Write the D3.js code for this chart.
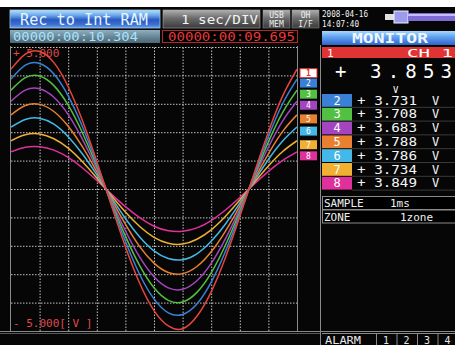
<!DOCTYPE html>
<html><head><meta charset="utf-8">
<script src="https://cdn.jsdelivr.net/npm/d3@7/dist/d3.min.js"></script>
<style>
body{margin:0;background:#fff;overflow:hidden;}
svg{display:block;}
text{font-family:"DejaVu Sans Mono","Liberation Mono",monospace;}
</style>
</head><body>
<svg id="chart" width="455" height="345"></svg>
<script>
// ---- data ----
const samplePos = [0,0.5,1,1.5,2,2.5,3,3.5,4,4.5,5,5.5,6,6.5,7,7.5,8,8.5,9,9.5,10]; // divisions
const ch1 = [4.22,4.75,4.84,4.45,3.60,2.40,0.97,-0.55,-2.03,-3.32,-4.28,-4.82,-4.92,-4.48,-3.62,-2.41,-0.97,0.55,2.01,3.28,4.22];
const ch2 = [3.87,4.36,4.42,4.05,3.28,2.19,0.89,-0.50,-1.84,-3.01,-3.87,-4.36,-4.42,-4.05,-3.28,-2.19,-0.89,0.50,1.84,3.01,3.87];
const ch3 = [3.48,3.92,3.98,3.64,2.95,1.97,0.80,-0.45,-1.66,-2.70,-3.48,-3.92,-3.98,-3.64,-2.95,-1.97,-0.80,0.45,1.66,2.70,3.48];
const ch4 = [3.09,3.48,3.53,3.23,2.62,1.75,0.71,-0.40,-1.47,-2.40,-3.09,-3.48,-3.53,-3.23,-2.62,-1.75,-0.71,0.40,1.47,2.40,3.09];
const ch5 = [2.61,2.94,2.98,2.73,2.21,1.48,0.60,-0.34,-1.24,-2.03,-2.61,-2.94,-2.98,-2.73,-2.21,-1.48,-0.60,0.34,1.24,2.03,2.61];
const ch6 = [2.18,2.45,2.49,2.28,1.84,1.23,0.50,-0.28,-1.04,-1.69,-2.18,-2.45,-2.49,-2.28,-1.84,-1.23,-0.50,0.28,1.04,1.69,2.18];
const ch7 = [1.70,1.91,1.94,1.77,1.44,0.96,0.39,-0.22,-0.81,-1.32,-1.70,-1.91,-1.94,-1.77,-1.44,-0.96,-0.39,0.22,0.81,1.32,1.70];
const ch8 = [1.31,1.47,1.49,1.37,1.11,0.74,0.30,-0.17,-0.62,-1.01,-1.31,-1.47,-1.49,-1.37,-1.11,-0.74,-0.30,0.17,0.62,1.01,1.31];
const channelNames = ["1","2","3","4","5","6","7","8"];
const channelColors = ["#e8443a","#3a80d6","#52c040","#a444c0","#e88030","#44b8e8","#f0b032","#e0309c"];
const monitorMain = "3.853";
const monitorValues = ["+ 3.731","+ 3.708","+ 3.683","+ 3.788","+ 3.786","+ 3.734","+ 3.849"];
const yTopLabel = "+ 5.000";
const yBottomLabel = "- 5.000[ V ]";
const headerTexts = {mode:"Rec to Int RAM", div:"1 sec/DIV", t1:"00000:00:10.304", t2:"00000:00:09.695", date:"2008-04-16", time:"14:07:40"};

const series = [ch1,ch2,ch3,ch4,ch5,ch6,ch7,ch8];

const svg = d3.select("#chart");
const W = 455, H = 345;
const plot = {l:11, r:297, t:47, b:331};

const defs = svg.append("defs");
function grad(id, stops){
  const g = defs.append("linearGradient").attr("id",id).attr("x1",0).attr("y1",0).attr("x2",0).attr("y2",1);
  stops.forEach(s=>g.append("stop").attr("offset",s[0]).attr("stop-color",s[1]));
}
grad("gBlue",[[0,"#b8e2fb"],[0.3,"#6aa6ea"],[0.55,"#2a58c0"],[0.8,"#3c70d0"],[1,"#6ea0e8"]]);
grad("gGray",[[0,"#b0b0b0"],[0.45,"#6c6c6c"],[1,"#3a3a3a"]]);
grad("gTime",[[0,"#8fb0c0"],[0.5,"#6a8898"],[1,"#4c6676"]]);
grad("gMon",[[0,"#a8d8ff"],[0.45,"#5e9ef0"],[1,"#2f64c8"]]);
defs.append("clipPath").attr("id","clipPlot").append("rect")
  .attr("x",plot.l).attr("y",plot.t).attr("width",plot.r-plot.l).attr("height",plot.b-plot.t);

// background
svg.append("rect").attr("width",W).attr("height",H).attr("fill","#fff");
svg.append("rect").attr("x",0).attr("y",7).attr("width",W).attr("height",H-7).attr("fill","#060606");

// ---- header ----
svg.append("rect").attr("x",10).attr("y",10).attr("width",150).attr("height",18).attr("fill","url(#gBlue)").attr("stroke","#9cc8f0").attr("stroke-width",0.8);
svg.append("text").attr("x",20).attr("y",25).attr("font-size",15).attr("fill","#e4f6ff")
  .attr("textLength",128).attr("lengthAdjust","spacingAndGlyphs").text(headerTexts.mode);
svg.append("rect").attr("x",163).attr("y",10).attr("width",97).attr("height",18).attr("fill","url(#gGray)").attr("stroke","#aaa").attr("stroke-width",0.6);
svg.append("text").attr("x",181).attr("y",24).attr("font-size",13).attr("fill","#f4f4f4")
  .attr("textLength",77).attr("lengthAdjust","spacingAndGlyphs").text(headerTexts.div);
[[263,"USB","MEM"],[292,"OH","I/F"]].forEach(d=>{
  svg.append("rect").attr("x",d[0]).attr("y",10).attr("width",27).attr("height",18).attr("fill","url(#gGray)").attr("stroke","#999").attr("stroke-width",0.5);
  svg.append("text").attr("x",d[0]+13.5).attr("y",18).attr("text-anchor","middle").attr("font-size",8).attr("fill","#f0f0f0").text(d[1]);
  svg.append("text").attr("x",d[0]+13.5).attr("y",26.5).attr("text-anchor","middle").attr("font-size",8).attr("fill","#f0f0f0").text(d[2]);
});
svg.append("text").attr("x",322).attr("y",17).attr("font-size",8).attr("fill","#f4f4f4").attr("textLength",46).attr("lengthAdjust","spacingAndGlyphs").text(headerTexts.date);
svg.append("text").attr("x",322).attr("y",26.5).attr("font-size",8).attr("fill","#f4f4f4").attr("textLength",37).attr("lengthAdjust","spacingAndGlyphs").text(headerTexts.time);
// battery/slider icon
svg.append("rect").attr("x",385).attr("y",14).attr("width",10).attr("height",6).attr("fill","#e0e0e0");
svg.append("rect").attr("x",394).attr("y",11).attr("width",14).attr("height",12).attr("fill","#9c9cec").attr("stroke","#f0f0ff").attr("stroke-width",1);
svg.append("rect").attr("x",408).attr("y",13).attr("width",47).attr("height",8).attr("fill","#7c6cd4");
svg.append("rect").attr("x",408).attr("y",14).attr("width",47).attr("height",2).attr("fill","#c4bcff");

// time row
svg.append("rect").attr("x",10).attr("y",30).attr("width",150).attr("height",13).attr("fill","url(#gTime)");
svg.append("text").attr("x",13).attr("y",41).attr("font-size",13).attr("fill","#a8e4ff")
  .attr("textLength",125).attr("lengthAdjust","spacingAndGlyphs").text(headerTexts.t1);
svg.append("rect").attr("x",162.5).attr("y",30.5).attr("width",135).attr("height",12).attr("fill","#000").attr("stroke","#b02828").attr("stroke-width",1);
svg.append("text").attr("x",168).attr("y",41).attr("font-size",13).attr("fill","#e83a3a")
  .attr("textLength",127).attr("lengthAdjust","spacingAndGlyphs").text(headerTexts.t2);

// ---- plot ----
const x = d3.scaleLinear().domain([0,10]).range([plot.l,plot.r]);
const y = d3.scaleLinear().domain([-5,5]).range([plot.b,plot.t]);

const gridV = svg.append("g").attr("transform",`translate(0,${plot.b})`)
  .call(d3.axisBottom(x).ticks(10).tickSize(-(plot.b-plot.t)).tickFormat(""));
const gridH = svg.append("g").attr("transform",`translate(${plot.l},0)`)
  .call(d3.axisLeft(y).ticks(10).tickSize(-(plot.r-plot.l)).tickFormat(""));
[gridV,gridH].forEach(g=>{
  g.select(".domain").remove();
  g.selectAll("line").attr("stroke","#c4c4c4").attr("stroke-width",1).attr("stroke-dasharray","1.5,1.5");
});
gridV.selectAll(".tick").filter(d=>d===0||d===10).remove();
gridH.selectAll(".tick").filter(d=>d===-5).remove();

// frame
const frame = svg.append("g").attr("stroke","#8a8a8a").attr("fill","none");
frame.append("line").attr("x1",10.5).attr("x2",10.5).attr("y1",46).attr("y2",331);
frame.append("line").attr("x1",297.5).attr("x2",297.5).attr("y1",46).attr("y2",331);
frame.append("line").attr("x1",320.5).attr("x2",320.5).attr("y1",45).attr("y2",345);
frame.append("line").attr("x1",0).attr("x2",W).attr("y1",331.5).attr("y2",331.5);
frame.append("line").attr("x1",0).attr("x2",320).attr("y1",333.5).attr("y2",333.5).attr("stroke","#5a5a5a");

// curves
const line = d3.line().x((d,i)=>x(samplePos[i])).y(d=>y(d)).curve(d3.curveNatural);
const curves = svg.append("g").attr("clip-path","url(#clipPlot)");
series.slice().reverse().forEach((s,ri)=>{
  const i = series.length-1-ri;
  curves.append("path").datum(s).attr("d",line).attr("fill","none")
    .attr("stroke",channelColors[i]).attr("stroke-width",1.5).attr("stroke-linejoin","round");
});

// axis range labels
svg.append("text").attr("x",13).attr("y",57).attr("font-size",11).attr("fill","#e04a4a").attr("xml:space","preserve").text(yTopLabel);
svg.append("text").attr("x",13).attr("y",327).attr("font-size",11).attr("fill","#e04a4a").attr("xml:space","preserve").text(yBottomLabel);

// channel tags at the right end of each trace
series.forEach((s,i)=>{
  const ty = y(s[s.length-1]) + 4;
  const g = svg.append("g").attr("transform",`translate(300,${ty-4.5})`);
  if(i===0){
    g.append("rect").attr("width",17).attr("height",9).attr("fill","#fff").attr("stroke","#e03030").attr("stroke-width",1);
    g.append("text").attr("x",8.5).attr("y",7.5).attr("text-anchor","middle").attr("font-size",8).attr("font-weight","bold").attr("fill","#e03030").text(channelNames[i]);
  } else {
    g.append("rect").attr("width",17).attr("height",9).attr("fill",channelColors[i]);
    g.append("text").attr("x",8.5).attr("y",7.5).attr("text-anchor","middle").attr("font-size",8).attr("fill","#fff").text(channelNames[i]);
  }
});

// ---- monitor panel ----
svg.append("rect").attr("x",322).attr("y",31).attr("width",133).attr("height",14).attr("fill","url(#gMon)");
svg.append("text").attr("x",352).attr("y",43).attr("font-size",14).attr("font-weight","bold").attr("fill","#eef6ff")
  .attr("textLength",76).attr("lengthAdjust","spacingAndGlyphs").text("MONITOR");
svg.append("rect").attr("x",322).attr("y",47).attr("width",133).attr("height",11).attr("fill","#e03434");
svg.append("text").attr("x",327).attr("y",56.5).attr("font-size",11).attr("fill","#fff").text(channelNames[0]);
svg.append("text").attr("x",407).attr("y",56.5).attr("font-size",11).attr("fill","#fff").attr("textLength",46).attr("lengthAdjust","spacingAndGlyphs").attr("xml:space","preserve").text("CH 1");
svg.append("text").attr("x",335).attr("y",78).attr("font-size",19).attr("fill","#fff").text("+");
svg.append("text").attr("x",370).attr("y",78).attr("font-size",19).attr("fill","#fff")
  .attr("textLength",82).attr("lengthAdjust","spacing").text(monitorMain);
svg.append("text").attr("x",393).attr("y",93).attr("font-size",9).attr("fill","#fff").text("V");

const rowTop = 94, rowH = 13.8;
monitorValues.forEach((v,k)=>{
  const i = k+1;
  const ry = rowTop + k*rowH;
  svg.append("rect").attr("x",322).attr("y",ry).attr("width",30).attr("height",rowH-1).attr("fill",channelColors[i]);
  svg.append("text").attr("x",337).attr("y",ry+10.5).attr("text-anchor","middle").attr("font-size",12).attr("fill","#fff").text(channelNames[i]);
  svg.append("text").attr("x",357).attr("y",ry+10.5).attr("font-size",12).attr("fill","#f4f4f4")
    .attr("textLength",60).attr("lengthAdjust","spacingAndGlyphs").attr("xml:space","preserve").text(v);
  svg.append("text").attr("x",432).attr("y",ry+10.5).attr("font-size",12).attr("fill","#f4f4f4").text("V");
  svg.append("line").attr("x1",352).attr("x2",455).attr("y1",ry+rowH-0.5).attr("y2",ry+rowH-0.5).attr("stroke","#3a3a3a");
});

// sample/zone boxes
[["SAMPLE",323,"1ms",390,196],["ZONE",323,"1zone",400,209.5]].forEach(d=>{
  svg.append("rect").attr("x",322.5).attr("y",d[4]+0.5).attr("width",133).attr("height",13).attr("fill","#000").attr("stroke","#8a8a8a");
  svg.append("text").attr("x",d[1]+1).attr("y",d[4]+11).attr("font-size",11).attr("fill","#f0f0f0").text(d[0]);
  svg.append("text").attr("x",d[3]).attr("y",d[4]+11).attr("font-size",11).attr("fill","#f0f0f0").text(d[2]);
});

// alarm bar
svg.append("line").attr("x1",322).attr("x2",W).attr("y1",333.5).attr("y2",333.5).attr("stroke","#8a8a8a");
svg.append("text").attr("x",325).attr("y",344).attr("font-size",10).attr("fill","#e8e8e8").attr("textLength",36).attr("lengthAdjust","spacingAndGlyphs").text("ALARM");
const alarmSlots = ["1","2","3","4"];
alarmSlots.forEach((a,k)=>{
  const sx = 376 + k*20.5;
  svg.append("line").attr("x1",sx+0.5).attr("x2",sx+0.5).attr("y1",334).attr("y2",345).attr("stroke","#8a8a8a");
  svg.append("text").attr("x",sx+10).attr("y",344).attr("text-anchor","middle").attr("font-size",10).attr("fill","#e8e8e8").text(a);
});
</script>
</body></html>
